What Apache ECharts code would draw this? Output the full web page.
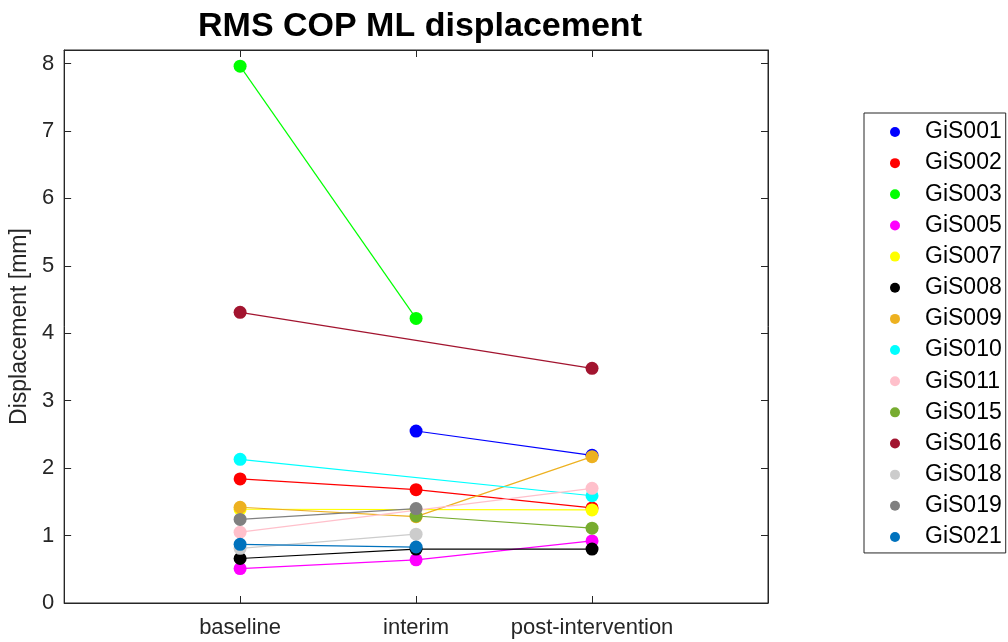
<!DOCTYPE html>
<html>
<head>
<meta charset="utf-8">
<script src="https://cdn.jsdelivr.net/npm/echarts@6/dist/echarts.min.js"></script>
<style>
html, body { margin: 0; padding: 0; background: #fff; }
#main { width: 1008px; height: 642px; }
</style>
</head>
<body>
<div id="main"></div>
<script>
// time points on the x axis (plotted at 1, 2, 3)
const stages = ['baseline', 'interim', 'post-intervention']
const yTicks = [0, 1, 2, 3, 4, 5, 6, 7, 8]

// RMS COP ML displacement [mm] per subject, null = not measured
const gis001 = [null, 2.55, 2.19]
const gis002 = [1.84, 1.68, 1.41]
const gis003 = [7.96, 4.22, null]
const gis005 = [0.51, 0.64, 0.92]
const gis007 = [1.39, null, 1.38]
const gis008 = [0.66, 0.80, 0.80]
const gis009 = [1.42, 1.28, 2.17]
const gis010 = [2.13, null, 1.59]
const gis011 = [1.05, null, 1.70]
const gis015 = [null, 1.29, 1.11]
const gis016 = [4.31, null, 3.48]
const gis018 = [0.81, 1.02, null]
const gis019 = [1.24, 1.40, null]
const gis021 = [0.87, 0.83, null]

const subjects = ['GiS001', 'GiS002', 'GiS003', 'GiS005', 'GiS007', 'GiS008', 'GiS009',
    'GiS010', 'GiS011', 'GiS015', 'GiS016', 'GiS018', 'GiS019', 'GiS021']
const values = [gis001, gis002, gis003, gis005, gis007, gis008, gis009,
    gis010, gis011, gis015, gis016, gis018, gis019, gis021]
const colors = ['#0000ff', '#ff0000', '#00ff00', '#ff00ff', '#ffff00', '#000000', '#edb120',
    '#00ffff', '#ffc0cb', '#77ac30', '#a2142f', '#cccccc', '#808080', '#0072bd']

const axisColor = '#262626'
const font = '"Liberation Sans", Arial, Helvetica, sans-serif'

// matlab style box: axis line + ticks pointing into the plot
function boxAxis (extra) {
    return Object.assign({
        axisLine: { show: true, onZero: false, lineStyle: { color: axisColor, width: 1 } },
        axisTick: { show: true, inside: true, length: 7, lineStyle: { color: axisColor, width: 1 } },
        splitLine: { show: false }
    }, extra)
}

const chart = echarts.init(document.getElementById('main'))

chart.setOption({
    animation: false,
    backgroundColor: '#fff',
    color: colors,
    title: {
        text: 'RMS COP ML displacement',
        left: 193,
        top: 5,
        textStyle: { fontFamily: font, fontSize: 34, fontWeight: 'bold', color: '#000' }
    },
    grid: { left: 63, right: 240, top: 50, bottom: 39, show: true, borderColor: axisColor, borderWidth: 1 },
    legend: {
        orient: 'vertical',
        left: 864,
        top: 113,
        icon: 'circle',
        itemWidth: 10,
        itemHeight: 10,
        itemGap: 8.15,
        padding: [7.5, 4, 4.5, 26],
        borderColor: '#262626',
        borderWidth: 1,
        borderRadius: 0,
        backgroundColor: '#fff',
        textStyle: { fontFamily: font, fontSize: 23, lineHeight: 23, color: '#000', padding: [0, 0, 0, 20] },
        data: subjects
    },
    xAxis: [
        boxAxis({
            type: 'value',
            min: 0,
            max: 4,
            interval: 1,
            axisLabel: {
                margin: 14,
                fontFamily: font,
                fontSize: 22,
                color: axisColor,
                formatter: v => stages[v - 1] || ''
            }
        }),
        boxAxis({
            type: 'value',
            position: 'top',
            min: 0,
            max: 4,
            interval: 1,
            axisLabel: { show: false }
        })
    ],
    yAxis: [
        boxAxis({
            type: 'value',
            min: yTicks[0],
            max: 8.2,
            interval: 1,
            name: 'Displacement [mm]',
            nameLocation: 'middle',
            nameGap: 22,
            nameTextStyle: { fontFamily: font, fontSize: 23, color: axisColor },
            axisLabel: {
                margin: 10,
                fontFamily: font,
                fontSize: 22,
                color: axisColor,
                showMaxLabel: false,
                formatter: v => (yTicks.indexOf(v) >= 0 ? String(v) : '')
            }
        }),
        boxAxis({
            type: 'value',
            position: 'right',
            min: 0,
            max: 8.2,
            interval: 1,
            axisLabel: { show: false }
        })
    ],
    series: subjects.map((name, i) => ({
        name: name,
        type: 'line',
        xAxisIndex: 0,
        yAxisIndex: 0,
        symbol: 'circle',
        symbolSize: 13,
        showAllSymbol: true,
        connectNulls: true,
        lineStyle: { width: 1.2, color: colors[i] },
        itemStyle: { color: colors[i] },
        data: values[i]
            .map((v, j) => [j + 1, v])
            .filter(p => p[1] !== null)
    })).concat([{
        // empty series so the mirrored top / right axes get drawn
        type: 'line',
        xAxisIndex: 1,
        yAxisIndex: 1,
        silent: true,
        data: []
    }])
})
</script>
</body>
</html>
